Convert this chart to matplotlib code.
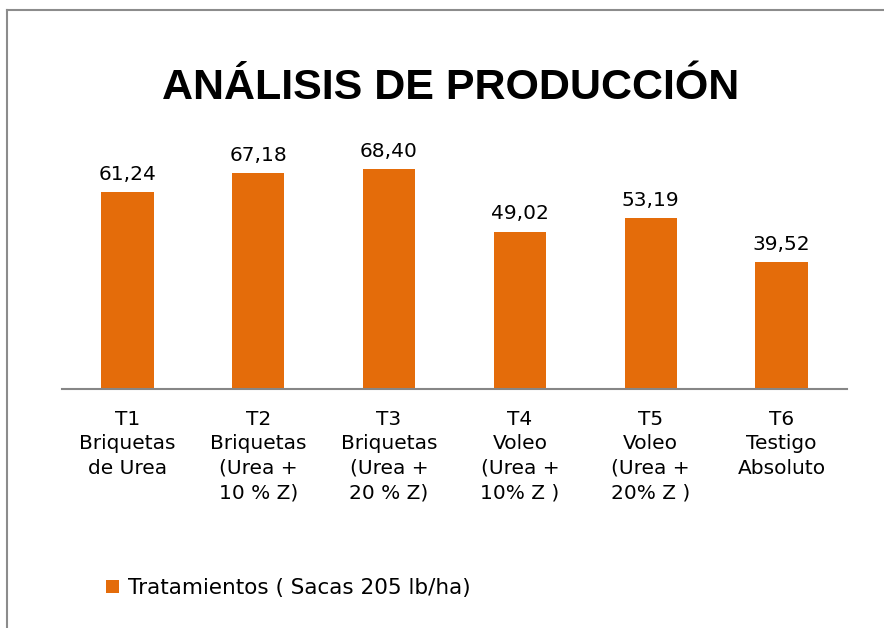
import matplotlib
matplotlib.use("Agg")
from matplotlib import pyplot as plt
from matplotlib.lines import Line2D

# data
categorias = ["T1\nBriquetas\nde Urea",
              "T2\nBriquetas\n(Urea +\n10 % Z)",
              "T3\nBriquetas\n(Urea +\n20 % Z)",
              "T4\nVoleo\n(Urea +\n10% Z )",
              "T5\nVoleo\n(Urea +\n20% Z )",
              "T6\nTestigo\nAbsoluto"]
sacas = [61.24, 67.18, 68.40, 49.02, 53.19, 39.52]
serie = "Tratamientos ( Sacas 205 lb/ha)"

naranja = "#E46C0A"
texto = ['DejaVu Sans']
plt.rcParams['font.family'] = ['Liberation Sans', 'DejaVu Sans']

fig = plt.figure(figsize=(8.84, 6.28), dpi=100)
ax = fig.add_axes([0.0701, 0.3806, 0.8880, 0.4092])

x = list(range(len(sacas)))
bars = ax.bar(x, sacas, 0.4, color=naranja, label=serie)
ax.set_xlim(-0.5, len(sacas) - 0.5)
ax.set_ylim(0, 80)

for b, v in zip(bars, sacas):
    ax.annotate(f"{v:.2f}".replace(".", ","),
                (b.get_x() + b.get_width() / 2, v),
                xytext=(0, 6), textcoords="offset points",
                ha="center", va="bottom", fontsize=14.5, family=texto)

ax.set_xticks(x)
ax.set_xticklabels(categorias, fontsize=14.5, linespacing=1.36, va="top",
                   family=texto)
ax.tick_params(axis="x", length=0, pad=15)
ax.set_yticks([])
for s in ["top", "right", "left"]:
    ax.spines[s].set_visible(False)
ax.spines["bottom"].set_color("#868686")
ax.spines["bottom"].set_linewidth(1.5)

fig.text(0.51, 0.86, "ANÁLISIS DE PRODUCCIÓN", ha="center", va="center",
         fontsize=31, fontweight="bold")

fig.legend(handles=[bars], labels=[serie], loc="center left",
           bbox_to_anchor=(0.098, 0.064), frameon=False,
           prop={'family': texto, 'size': 15.5},
           handlelength=0.6, handleheight=0.55, handletextpad=0.4)

# chart border
fig.add_artist(Line2D([0.008, 0.008], [0.0, 0.984], color="#8c8c8c", lw=1.5))
fig.add_artist(Line2D([0.008, 1.0], [0.984, 0.984], color="#8c8c8c", lw=1.5))

fig.savefig("out.png", dpi=100)
